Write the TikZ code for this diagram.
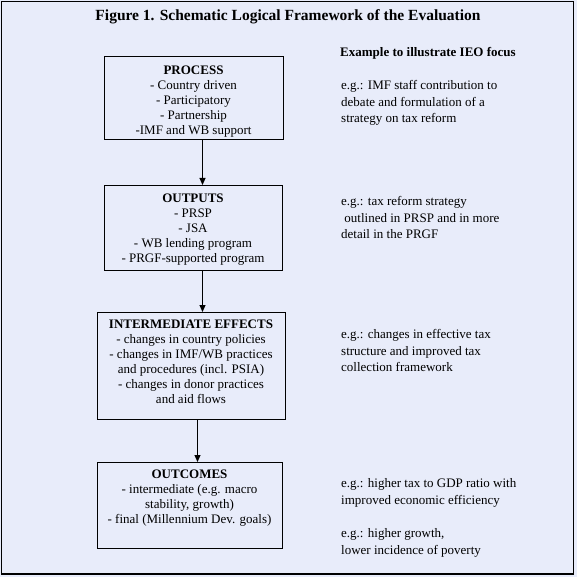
\documentclass[tikz,border=0pt]{standalone}
\usepackage{fontspec}
\setmainfont{Liberation Serif}
\usetikzlibrary{arrows.meta}
\definecolor{bgc}{RGB}{232,236,250}
\tikzset{
  box/.style={draw=black,line width=0.9pt,fill=none,inner sep=0pt},
  boxtext/.style={anchor=north,align=center,inner sep=0pt,font=\fontsize{13}{15}\selectfont},
  side/.style={anchor=north west,align=left,inner sep=0pt,font=\fontsize{13}{16.5}\selectfont},
  flow/.style={draw=black,line width=0.9pt,-{Triangle[width=6pt,length=7pt]}},
}
\begin{document}
\begin{tikzpicture}[x=1pt,y=-1pt]
\useasboundingbox (0,0) rectangle (577,577);
\fill[bgc] (0,0) rectangle (577,577);
\draw[line width=1.5pt] (1.5,1.5) rectangle (573.5,574);
\node[anchor=center,inner sep=0pt,font=\fontsize{15.5}{18}\selectfont\bfseries] (title) at (288,16.5) {Figure 1. Schematic Logical Framework of the Evaluation};

% boxes
\node[box,minimum width=179pt,minimum height=83pt] (process) at (193.5,98) {};
\node[box,minimum width=178pt,minimum height=85pt] (outputs) at (193,227.5) {};
\node[box,minimum width=188pt,minimum height=107pt] (inter) at (191,365.5) {};
\node[box,minimum width=185pt,minimum height=86pt] (outcomes) at (189.5,505) {};

\node[boxtext] (tprocess) at (193.5,65.5) {\textbf{PROCESS}\\- Country driven\\- Participatory\\- Partnership\\-IMF and WB support};
\node[boxtext] (toutputs) at (193,193.5) {\textbf{OUTPUTS}\\- PRSP\\- JSA\\- WB lending program\\- PRGF-supported program};
\node[boxtext] (tinter) at (191,319.5) {\textbf{INTERMEDIATE EFFECTS}\\- changes in country policies\\- changes in IMF/WB practices\\and procedures (incl. PSIA)\\- changes in donor practices\\and aid flows};
\node[boxtext] (toutcomes) at (189.5,469.5) {\textbf{OUTCOMES}\\- intermediate (e.g. macro\\stability, growth)\\- final (Millennium Dev. goals)};

% arrows
\coordinate (a1s) at (202.5,140);
\coordinate (a1e) at (202.5,185);
\coordinate (a2s) at (202.5,270);
\coordinate (a2e) at (202.5,312);
\coordinate (a3s) at (197.5,419);
\coordinate (a3e) at (197.5,462);
\draw[flow] (a1s) -- (a1e);
\draw[flow] (a2s) -- (a2e);
\draw[flow] (a3s) -- (a3e);

% side texts
\node[side,font=\fontsize{13}{16}\selectfont\bfseries] (head) at (340,47.5) {Example to illustrate IEO focus};
\node[side] (e1) at (341,80.5) {e.g.: IMF staff contribution to\\debate and formulation of a\\strategy on tax reform};
\node[side] (e2) at (341,196.5) {e.g.: tax reform strategy\\\ outlined in PRSP and in more\\detail in the PRGF};
\node[side] (e3) at (341,329.5) {e.g.: changes in effective tax\\structure and improved tax\\collection framework};
\node[side] (e4) at (341,478.5) {e.g.: higher tax to GDP ratio with\\improved economic efficiency};
\node[side] (e5) at (341,528.5) {e.g.: higher growth,\\lower incidence of poverty};
\end{tikzpicture}
\end{document}
